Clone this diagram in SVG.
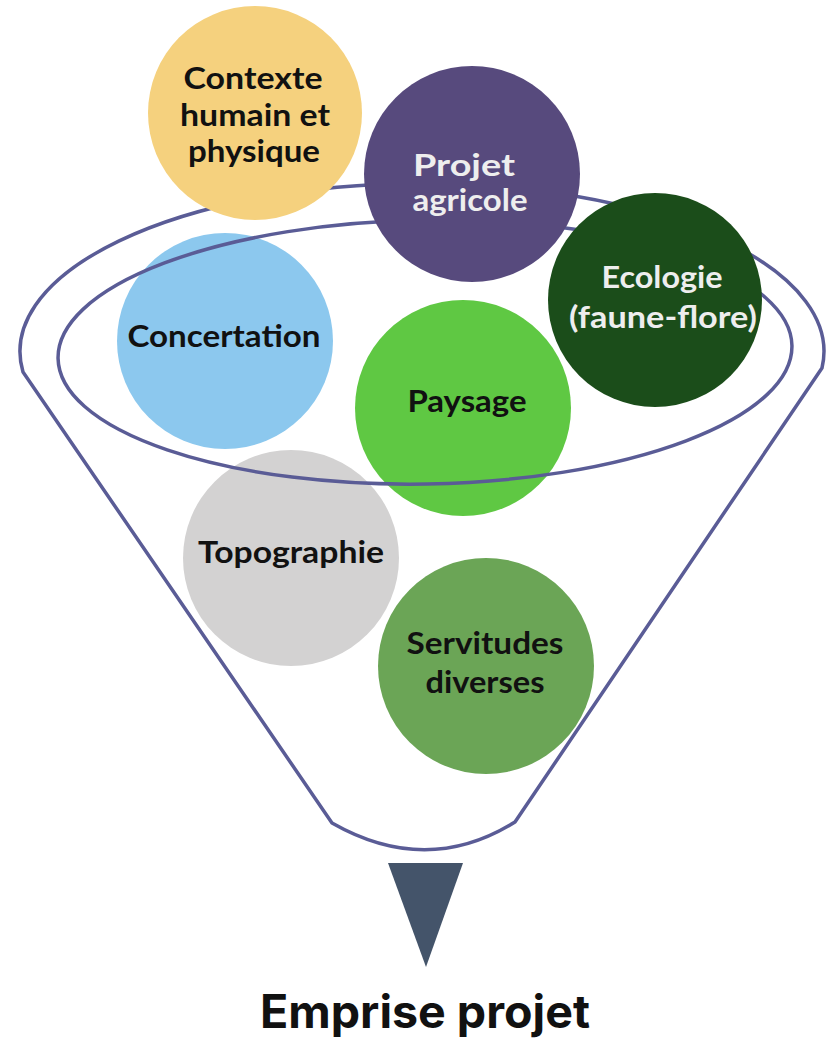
<svg xmlns="http://www.w3.org/2000/svg" width="829" height="1039" viewBox="0 0 829 1039">
<style>
.lbl{font-family:Lato,"Liberation Sans",sans-serif;font-weight:700;font-size:31px;text-anchor:middle;fill:#111111}
.lt{fill:#EEEEEE}
.fun{fill:none;stroke:#5A5C96;stroke-width:3.5;stroke-linejoin:round}
.title{font-family:Inter,"Liberation Sans",sans-serif;font-weight:700;font-size:46px;text-anchor:middle;fill:#111111}
</style>
<rect width="829" height="1039" fill="#FFFFFF"/>
<g id="concertation">
<circle cx="225" cy="341" r="108" fill="#8CC8EE"/>
<text class="lbl" x="224" y="347" textLength="193" lengthAdjust="spacingAndGlyphs">Concertation</text>
</g>
<g id="paysage">
<circle cx="463" cy="408" r="108" fill="#5FC843"/>
<text class="lbl" x="467" y="412" textLength="119" lengthAdjust="spacingAndGlyphs">Paysage</text>
</g>
<g id="topographie">
<circle cx="291" cy="558" r="108" fill="#D3D2D2"/>
<text class="lbl" x="291" y="563" textLength="186" lengthAdjust="spacingAndGlyphs">Topographie</text>
</g>
<g id="servitudes">
<circle cx="486" cy="666" r="108" fill="#6BA556"/>
<text class="lbl" x="485" y="654" textLength="157" lengthAdjust="spacingAndGlyphs">Servitudes</text>
<text class="lbl" x="485" y="693" textLength="119" lengthAdjust="spacingAndGlyphs">diverses</text>
</g>
<g id="funnel">
<path class="fun" d="M 23 372 A 402 168 0 1 1 822 368 L 515 822 Q 427 877 332 823 Z"/>
<ellipse class="fun" cx="425" cy="352" rx="367" ry="132" transform="rotate(-1 425 352)"/>
</g>
<g id="contexte">
<circle cx="255" cy="113" r="107" fill="#F5D17E"/>
<text class="lbl" x="253" y="89" textLength="139" lengthAdjust="spacingAndGlyphs">Contexte</text>
<text class="lbl" x="255" y="126" textLength="150" lengthAdjust="spacingAndGlyphs">humain et</text>
<text class="lbl" x="254" y="162" textLength="132" lengthAdjust="spacingAndGlyphs">physique</text>
</g>
<g id="projet-agricole">
<circle cx="472" cy="174" r="108" fill="#574A7D"/>
<text class="lbl lt" x="464" y="176" textLength="102" lengthAdjust="spacingAndGlyphs">Projet</text>
<text class="lbl lt" x="470" y="211" textLength="115" lengthAdjust="spacingAndGlyphs">agricole</text>
</g>
<g id="ecologie">
<circle cx="655" cy="300" r="107" fill="#1B4D1A"/>
<text class="lbl lt" x="662" y="288" textLength="121" lengthAdjust="spacingAndGlyphs">Ecologie</text>
<text class="lbl lt" x="663" y="328" textLength="188" lengthAdjust="spacingAndGlyphs">(faune-flore)</text>
</g>
<g id="connectors">
<polygon points="388,863 463,863 426,967" fill="#44546A"/>
</g>
<g id="emprise-projet">
<text class="title" x="425" y="1028" textLength="330" lengthAdjust="spacingAndGlyphs">Emprise projet</text>
</g>
</svg>
